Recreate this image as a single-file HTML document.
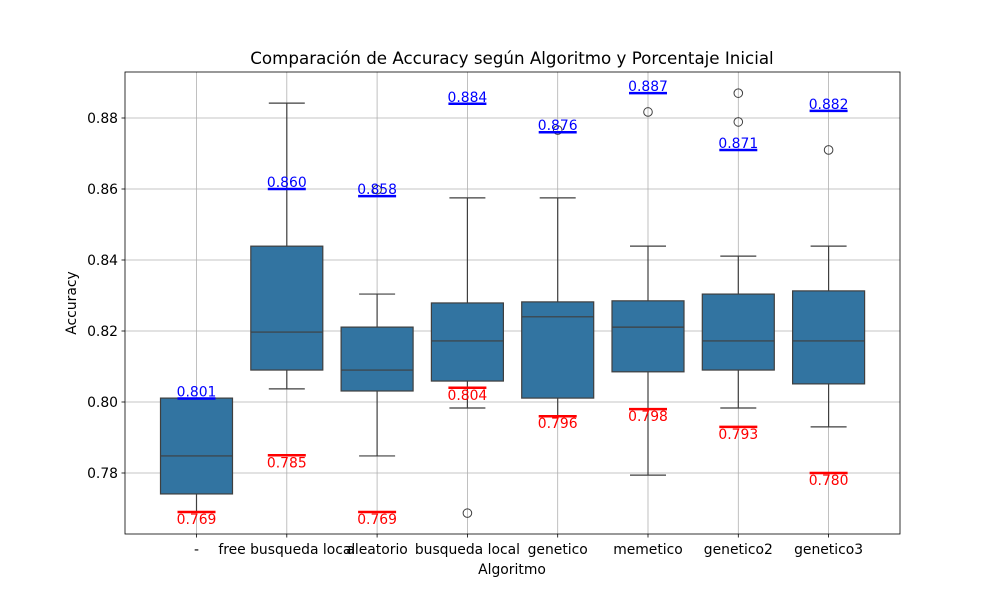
<!DOCTYPE html>
<html><head><meta charset="utf-8"><style>
body{margin:0;background:#fff;font-family:"Liberation Sans","DejaVu Sans",sans-serif}
svg text{font-family:"DejaVu Sans","Liberation Sans",sans-serif}
</style></head><body>
<svg id="chart" width="1000" height="600" xmlns="http://www.w3.org/2000/svg"></svg>
<script>
const categories=["-","free busqueda local","aleatorio","busqueda local","genetico","memetico","genetico2","genetico3"];
const q1s=[0.7741,0.8090,0.8031,0.8059,0.8011,0.8085,0.8090,0.8051];
const medians=[0.7848,0.8197,0.8090,0.8172,0.8240,0.8211,0.8172,0.8172];
const q3s=[0.8011,0.8439,0.8211,0.8279,0.8282,0.8285,0.8304,0.8313];
const whiskLow=[0.7690,0.8037,0.7848,0.7983,0.7958,0.7794,0.7983,0.7930];
const whiskHigh=[0.8011,0.8842,0.8304,0.8575,0.8575,0.8439,0.8411,0.8439];
const outliers=[[],[],[0.8598],[0.7687],[0.8766],[0.8817],[0.8870,0.8789],[0.8710]];
const minVals=[0.769,0.785,0.769,0.804,0.796,0.798,0.793,0.780];
const maxVals=[0.801,0.860,0.858,0.884,0.876,0.887,0.871,0.882];
const yTicks=[0.78,0.80,0.82,0.84,0.86,0.88];

const svg=document.getElementById('chart');
const NS="http://www.w3.org/2000/svg";
const L=125,R=900,T=72,B=534;
function y(v){return 402-(v-0.80)*3550;}
function x(i){return 196.5+90.3*i;}
function mk(tag,a,txt){const e=document.createElementNS(NS,tag);for(const k in a)e.setAttribute(k,a[k]);if(txt!==undefined)e.textContent=txt;svg.appendChild(e);return e;}

yTicks.forEach(t=>{
 const g=mk('line',{x1:L,x2:R,y1:y(t),y2:y(t),stroke:'#b0b0b0','stroke-width':0.8});
 
 
 const tk=mk('line',{x1:L-3.5,x2:L,y1:y(t),y2:y(t),stroke:'#000','stroke-width':0.8});
 
 
 const lb=mk('text',{x:L-7,y:y(t)+5,'font-size':13.9,'text-anchor':'end',fill:'#000'},t.toFixed(2));
 
 
});
categories.forEach((c,i)=>{
 const g=mk('line',{x1:x(i),x2:x(i),y1:T,y2:B,stroke:'#b0b0b0','stroke-width':0.8});
 
 
 const tk=mk('line',{x1:x(i),x2:x(i),y1:B,y2:B+3.5,stroke:'#000','stroke-width':0.8});
 
 
 const lb=mk('text',{x:x(i),y:B+20,'font-size':13.9,'text-anchor':'middle',fill:'#000'},c);
 
 
});
const bw=72,cw=36;
categories.forEach((c,i)=>{
 const cx=x(i),st='#3f3f3f';
 const w1=mk('line',{x1:cx,x2:cx,y1:y(q1s[i]),y2:y(whiskLow[i]),stroke:st,'stroke-width':1.2});
 
 
 const w2=mk('line',{x1:cx,x2:cx,y1:y(q3s[i]),y2:y(whiskHigh[i]),stroke:st,'stroke-width':1.2});
 
 
 const c1=mk('line',{x1:cx-cw/2,x2:cx+cw/2,y1:y(whiskLow[i]),y2:y(whiskLow[i]),stroke:st,'stroke-width':1.2});
 
 
 const c2=mk('line',{x1:cx-cw/2,x2:cx+cw/2,y1:y(whiskHigh[i]),y2:y(whiskHigh[i]),stroke:st,'stroke-width':1.2});
 
 
 const b=mk('rect',{x:cx-bw/2,y:y(q3s[i]),width:bw,height:y(q1s[i])-y(q3s[i]),fill:'#3274a1',stroke:st,'stroke-width':1.2});
 
 
 const m=mk('line',{x1:cx-bw/2,x2:cx+bw/2,y1:y(medians[i]),y2:y(medians[i]),stroke:st,'stroke-width':1.2});
 
 
 outliers[i].forEach(o=>{
  const p=mk('circle',{cx:cx,cy:y(o),r:4.3,fill:'none',stroke:st,'stroke-width':1});
  
  
 });
 const rl=mk('line',{x1:cx-19,x2:cx+19,y1:y(minVals[i]),y2:y(minVals[i]),stroke:'red','stroke-width':2.5});
 
 
 const rt=mk('text',{x:cx,y:y(minVals[i])+12,'font-size':13.9,'text-anchor':'middle',fill:'red'},minVals[i].toFixed(3));
 
 
 const bl=mk('line',{x1:cx-19,x2:cx+19,y1:y(maxVals[i]),y2:y(maxVals[i]),stroke:'blue','stroke-width':2.5});
 
 
 const bt=mk('text',{x:cx,y:y(maxVals[i])-2,'font-size':13.9,'text-anchor':'middle',fill:'blue'},maxVals[i].toFixed(3));
 
 
});
const fr=mk('rect',{x:L,y:T,width:R-L,height:B-T,fill:'none',stroke:'#000','stroke-width':0.8});


const ti=mk('text',{x:512,y:64,'font-size':16.7,'text-anchor':'middle',fill:'#000'},'Comparación de Accuracy según Algoritmo y Porcentaje Inicial');


const xt=mk('text',{x:512,y:574,'font-size':13.9,'text-anchor':'middle',fill:'#000'},'Algoritmo');


const yt=mk('text',{x:76,y:303,'font-size':13.9,'text-anchor':'middle',fill:'#000',transform:'rotate(-90 76 303)'},'Accuracy');


</script>
</body></html>
